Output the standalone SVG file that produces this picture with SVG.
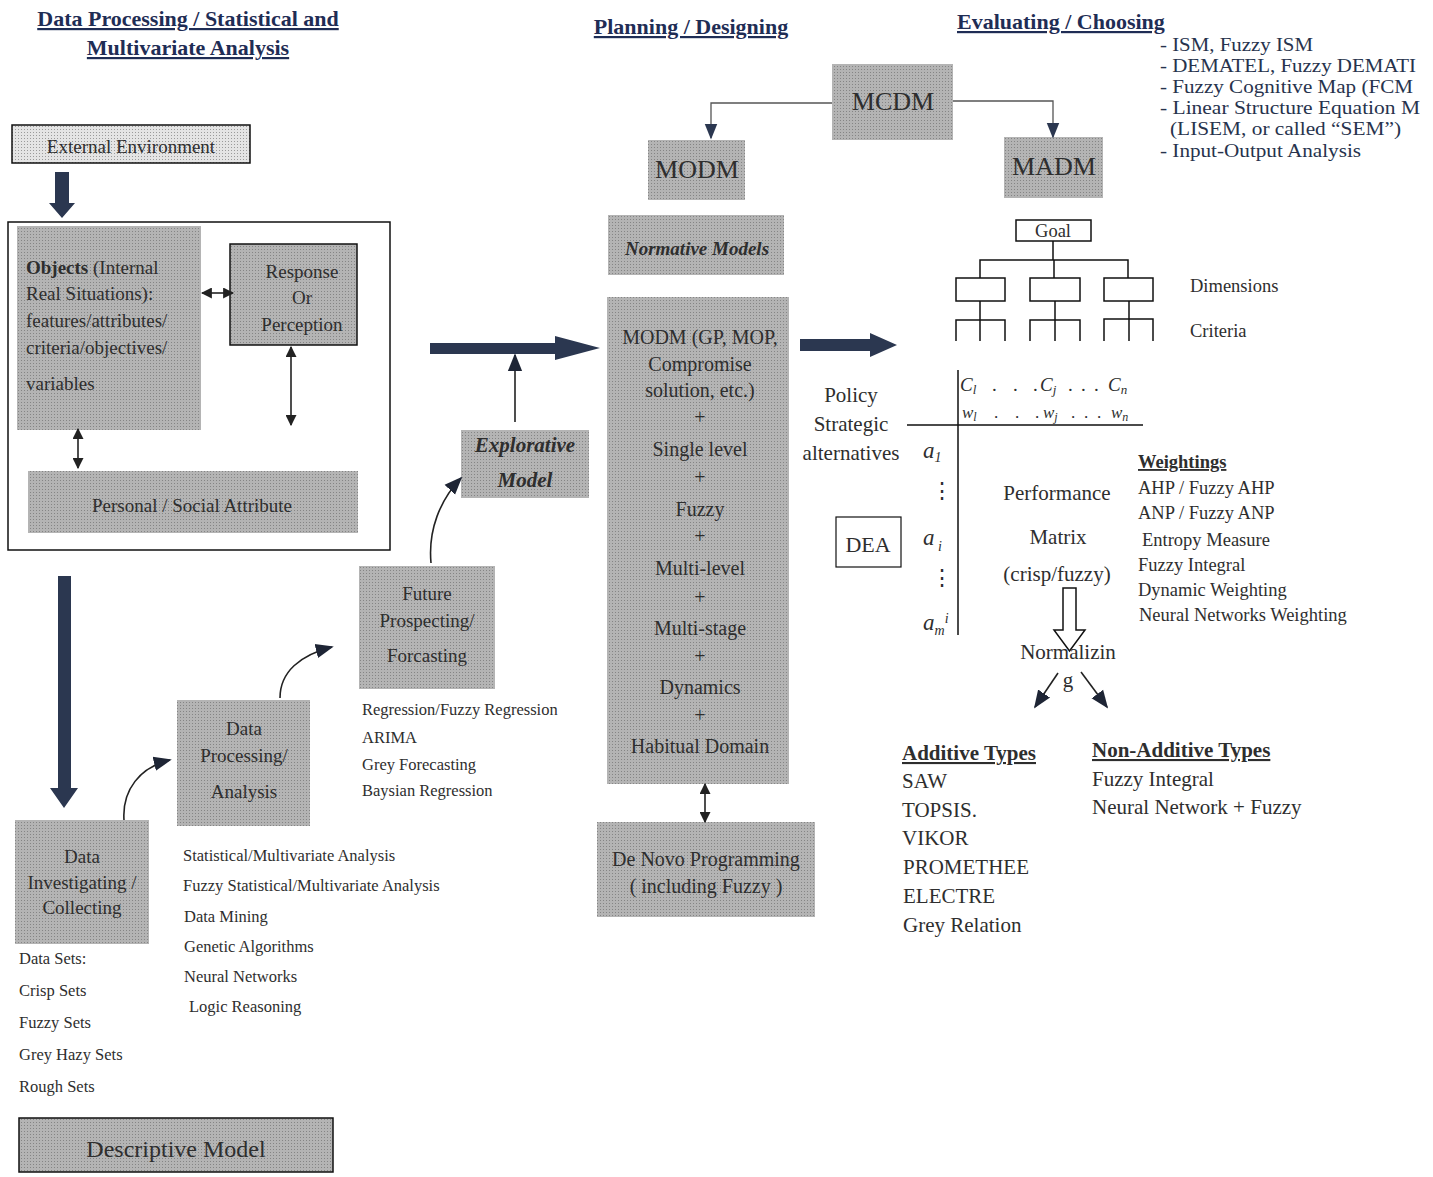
<svg xmlns="http://www.w3.org/2000/svg" width="1433" height="1177" viewBox="0 0 1433 1177">
<defs>
<pattern id="dots" width="3" height="3" patternUnits="userSpaceOnUse">
<rect width="3" height="3" fill="#b4b4b4"/>
<rect width="1" height="1" fill="#858585"/>
</pattern>
<pattern id="ldots" width="3" height="3" patternUnits="userSpaceOnUse">
<rect width="3" height="3" fill="#e4e4e4"/>
<rect width="1" height="1" fill="#9a9a9a"/>
</pattern>
<marker id="ah" viewBox="0 0 10 10" refX="9" refY="5" markerWidth="11" markerHeight="11" orient="auto-start-reverse" markerUnits="userSpaceOnUse">
<path d="M0,0 L10,5 L0,10 z" fill="#222"/>
</marker>
<marker id="ahb" viewBox="0 0 10 10" refX="9" refY="5" markerWidth="16" markerHeight="16" orient="auto" markerUnits="userSpaceOnUse">
<path d="M0,1 L10,5 L0,9 z" fill="#2b3750"/>
</marker>
<marker id="ahc" viewBox="0 0 10 10" refX="9" refY="5" markerWidth="18" markerHeight="18" orient="auto" markerUnits="userSpaceOnUse">
<path d="M0,1 L10,5 L0,9 z" fill="#1e2535"/>
</marker>
</defs>
<style>
text{font-family:"Liberation Serif","Times New Roman",serif;fill:#2e2e2e}
.hd{font-weight:bold;font-size:22px;fill:#1f2d55;text-decoration:underline}
.box{fill:url(#dots)}
.bk{stroke:#111;stroke-width:1.5}
.c{text-anchor:middle}
.t19{font-size:19px}
.t20{font-size:20px}
.t21{font-size:21px}
.t16{font-size:16.5px}
.t18{font-size:18.5px}
.tl{font-size:18px}
.ln{stroke:#222;stroke-width:1.6;fill:none}
.thin{stroke:#111;stroke-width:1.5;fill:none}
.navy{fill:#2b3750}
.sub{font-weight:bold;text-decoration:underline}
.blue{fill:#27334d}
.it{font-style:italic}
</style>
<rect width="1433" height="1177" fill="#fff"/>

<g id="headers">
<text class="hd c" x="188" y="26">Data Processing / Statistical and</text>
<text class="hd c" x="188" y="55">Multivariate Analysis</text>
<text class="hd c" x="691" y="34">Planning / Designing</text>
<text class="hd" x="957" y="29">Evaluating / Choosing</text>
</g>

<g id="external-environment">
<rect x="12" y="125" width="238" height="38" fill="url(#ldots)" class="bk"/>
<text class="c t19" x="131" y="153">External Environment</text>
</g>

<g id="frame">
<rect x="8" y="222" width="382" height="328" fill="none" class="bk"/>
</g>

<g id="objects">
<rect x="17" y="226" width="184" height="204" class="box"/>
<text class="t19" x="26" y="274"><tspan font-weight="bold">Objects</tspan> (Internal</text>
<text class="t19" x="26" y="300">Real Situations):</text>
<text class="t19" x="26" y="327">features/attributes/</text>
<text class="t19" x="26" y="354">criteria/objectives/</text>
<text class="t19" x="26" y="390">variables</text>
</g>

<g id="response">
<rect x="230" y="244" width="127" height="101" class="box" stroke="#111" stroke-width="1.5"/>
<text class="c t19" x="302" y="278">Response</text>
<text class="c t19" x="302" y="304">Or</text>
<text class="c t19" x="302" y="331">Perception</text>
</g>

<g id="personal-social">
<rect x="28" y="471" width="330" height="62" class="box"/>
<text class="c t19" x="192" y="512">Personal / Social Attribute</text>
</g>

<g id="data-investigating">
<rect x="15" y="820" width="134" height="124" class="box"/>
<text class="c t19" x="82" y="863">Data</text>
<text class="c t19" x="82" y="889">Investigating /</text>
<text class="c t19" x="82" y="914">Collecting</text>
</g>

<g id="data-sets">
<text class="t16" x="19" y="964">Data Sets:</text>
<text class="t16" x="19" y="996">Crisp Sets</text>
<text class="t16" x="19" y="1028">Fuzzy Sets</text>
<text class="t16" x="19" y="1060">Grey Hazy Sets</text>
<text class="t16" x="19" y="1092">Rough Sets</text>
</g>

<g id="descriptive-model">
<rect x="19" y="1118" width="314" height="54" class="box" stroke="#111" stroke-width="1.5"/>
<text class="c" font-size="24" x="176" y="1157">Descriptive Model</text>
</g>

<g id="data-processing">
<rect x="177" y="700" width="133" height="126" class="box"/>
<text class="c t19" x="244" y="735">Data</text>
<text class="c t19" x="244" y="762">Processing/</text>
<text class="c t19" x="244" y="798">Analysis</text>
</g>

<g id="stat-methods">
<text class="t16" x="183" y="861">Statistical/Multivariate Analysis</text>
<text class="t16" x="183" y="891">Fuzzy Statistical/Multivariate Analysis</text>
<text class="t16" x="184" y="922">Data Mining</text>
<text class="t16" x="184" y="952">Genetic Algorithms</text>
<text class="t16" x="184" y="982">Neural Networks</text>
<text class="t16" x="189" y="1012">Logic Reasoning</text>
</g>

<g id="future-prospecting">
<rect x="359" y="566" width="136" height="123" class="box"/>
<text class="c t19" x="427" y="600">Future</text>
<text class="c t19" x="427" y="627">Prospecting/</text>
<text class="c t19" x="427" y="662">Forcasting</text>
</g>

<g id="forecast-methods">
<text class="t16" x="362" y="715">Regression/Fuzzy Regression</text>
<text class="t16" x="362" y="743">ARIMA</text>
<text class="t16" x="362" y="770">Grey Forecasting</text>
<text class="t16" x="362" y="796">Baysian Regression</text>
</g>

<g id="explorative-model">
<rect x="461" y="430" width="128" height="68" class="box"/>
<text class="c" font-size="21" font-style="italic" font-weight="bold" x="525" y="452">Explorative</text>
<text class="c" font-size="21" font-style="italic" font-weight="bold" x="525" y="487">Model</text>
</g>

<g id="mcdm">
<rect x="832" y="64" width="121" height="76" class="box"/>
<text class="c" font-size="26" x="893" y="110">MCDM</text>
</g>

<g id="modm">
<rect x="648" y="140" width="97" height="60" class="box"/>
<text class="c" font-size="26" x="697" y="178">MODM</text>
</g>

<g id="madm">
<rect x="1004" y="137" width="99" height="61" class="box"/>
<text class="c" font-size="26" x="1054" y="175">MADM</text>
</g>

<g id="normative-models">
<rect x="608" y="215" width="176" height="60" class="box"/>
<text class="c" font-size="19" font-style="italic" font-weight="bold" x="697" y="255">Normative Models</text>
</g>

<g id="modm-detail">
<rect x="607" y="297" width="182" height="487" class="box"/>
<text class="c t20" x="700" y="344">MODM (GP, MOP,</text>
<text class="c t20" x="700" y="371">Compromise</text>
<text class="c t20" x="700" y="397">solution, etc.)</text>
<text class="c t20" x="700" y="424">+</text>
<text class="c t20" x="700" y="456">Single level</text>
<text class="c t20" x="700" y="484">+</text>
<text class="c t20" x="700" y="516">Fuzzy</text>
<text class="c t20" x="700" y="543">+</text>
<text class="c t20" x="700" y="575">Multi-level</text>
<text class="c t20" x="700" y="604">+</text>
<text class="c t20" x="700" y="635">Multi-stage</text>
<text class="c t20" x="700" y="663">+</text>
<text class="c t20" x="700" y="694">Dynamics</text>
<text class="c t20" x="700" y="722">+</text>
<text class="c t20" x="700" y="753">Habitual Domain</text>
</g>

<g id="de-novo">
<rect x="597" y="822" width="218" height="95" class="box"/>
<text class="c t20" x="706" y="866">De Novo Programming</text>
<text class="c t20" x="706" y="893">( including Fuzzy )</text>
</g>

<g id="techniques-list">
<text class="tl blue" x="1160" y="51" textLength="153" lengthAdjust="spacingAndGlyphs">- ISM, Fuzzy ISM</text>
<text class="tl blue" x="1160" y="72" textLength="256" lengthAdjust="spacingAndGlyphs">- DEMATEL, Fuzzy DEMATI</text>
<text class="tl blue" x="1160" y="93" textLength="253" lengthAdjust="spacingAndGlyphs">- Fuzzy Cognitive Map (FCM</text>
<text class="tl blue" x="1160" y="114" textLength="260" lengthAdjust="spacingAndGlyphs">- Linear Structure Equation M</text>
<text class="tl blue" x="1170" y="135" textLength="231" lengthAdjust="spacingAndGlyphs">(LISEM, or called “SEM”)</text>
<text class="tl blue" x="1160" y="157" textLength="201" lengthAdjust="spacingAndGlyphs">- Input-Output Analysis</text>
</g>

<g id="hierarchy">
<rect x="1016" y="220" width="75" height="21" fill="#fff" class="bk"/>
<text class="c t18" x="1053" y="237">Goal</text>
<path class="thin" d="M1053,241 V260 M980,278 V260 H1128 V278 M1054,260 V278"/>
<rect x="956" y="278" width="49" height="23" fill="#fff" class="bk"/>
<rect x="1030" y="278" width="50" height="23" fill="#fff" class="bk"/>
<rect x="1104" y="278" width="49" height="23" fill="#fff" class="bk"/>
<path class="thin" d="M956,341 V320 H1005 V341 M980,301 V341 M1030,341 V320 H1080 V341 M1055,301 V341 M1104,341 V319 H1153 V341 M1129,301 V341"/>
<text class="t18" x="1190" y="292">Dimensions</text>
<text class="t18" x="1190" y="337">Criteria</text>
</g>

<g id="policy">
<text class="c" font-size="21" x="851" y="402">Policy</text>
<text class="c" font-size="21" x="851" y="431">Strategic</text>
<text class="c" font-size="21" x="851" y="460">alternatives</text>
</g>

<g id="dea">
<rect x="836" y="517" width="65" height="50" fill="#fff" stroke="#111" stroke-width="1.2"/>
<text class="c" font-size="22" x="868" y="552">DEA</text>
</g>

<g id="matrix">
<path class="thin" d="M958,370 V635 M907,425 H1143"/>
<text class="it" font-size="19" x="960" y="391">C<tspan font-size="13" dy="3">l</tspan></text>
<text font-size="19" x="992" y="391">.</text>
<text font-size="19" x="1013" y="391">.</text>
<text font-size="19" x="1033" y="391">.</text>
<text class="it" font-size="19" x="1040" y="391">C<tspan font-size="13" dy="3">j</tspan></text>
<text font-size="19" x="1068" y="391">.</text>
<text font-size="19" x="1081" y="391">.</text>
<text font-size="19" x="1094" y="391">.</text>
<text class="it" font-size="19" x="1108" y="391">C<tspan font-size="13" dy="3">n</tspan></text>
<text class="it" font-size="17" x="962" y="418">w<tspan font-size="12" dy="3">l</tspan></text>
<text font-size="17" x="994" y="418">.</text>
<text font-size="17" x="1015" y="418">.</text>
<text font-size="17" x="1035" y="418">.</text>
<text class="it" font-size="17" x="1043" y="418">w<tspan font-size="12" dy="3">j</tspan></text>
<text font-size="17" x="1071" y="418">.</text>
<text font-size="17" x="1084" y="418">.</text>
<text font-size="17" x="1097" y="418">.</text>
<text class="it" font-size="17" x="1111" y="418">w<tspan font-size="12" dy="3">n</tspan></text>
<text class="it" font-size="23" x="923" y="458">a<tspan font-size="14" dy="4">1</tspan></text>
<text font-size="22" x="931" y="498">⋮</text>
<text class="it" font-size="23" x="923" y="545">a<tspan font-size="14" dy="6"> i</tspan></text>
<text font-size="22" x="931" y="585">⋮</text>
<text class="it" font-size="23" x="923" y="630">a<tspan font-size="14" dy="5">m</tspan><tspan font-size="14" dy="-12">i</tspan></text>
<text class="c" font-size="21" x="1057" y="500">Performance</text>
<text class="c" font-size="21" x="1058" y="544">Matrix</text>
<text class="c" font-size="21" x="1057" y="581">(crisp/fuzzy)</text>
<path d="M1063,588 H1076 V630 H1085 L1069.5,651 L1054,630 H1063 Z" fill="#fff" stroke="#111" stroke-width="1.5"/>
<text class="c" font-size="21" x="1068" y="659">Normalizin</text>
<text class="c" font-size="21" x="1068" y="687">g</text>
</g>

<g id="weightings">
<text class="t18 sub" x="1138" y="468">Weightings</text>
<text class="t18" x="1138" y="494">AHP / Fuzzy AHP</text>
<text class="t18" x="1138" y="519">ANP / Fuzzy ANP</text>
<text class="t18" x="1142" y="546">Entropy Measure</text>
<text class="t18" x="1138" y="571">Fuzzy Integral</text>
<text class="t18" x="1138" y="596" fill="#111">Dynamic Weighting</text>
<text class="t18" x="1139" y="621" fill="#111">Neural Networks Weighting</text>
</g>

<g id="additive-types">
<text class="t21 sub" x="902" y="760">Additive Types</text>
<text class="t21" x="902" y="788">SAW</text>
<text class="t21" x="902" y="817">TOPSIS.</text>
<text class="t21" x="902" y="845">VIKOR</text>
<text class="t21" x="903" y="874">PROMETHEE</text>
<text class="t21" x="903" y="903">ELECTRE</text>
<text class="t21" x="903" y="932">Grey Relation</text>
</g>

<g id="non-additive-types">
<text class="t21 sub" x="1092" y="757">Non-Additive Types</text>
<text class="t21" x="1092" y="786">Fuzzy Integral</text>
<text class="t21" x="1092" y="814" fill="#111">Neural Network + Fuzzy</text>
</g>

<g id="connectors">
<polygon class="navy" points="55,172 69,172 69,203 75,203 62,218 49,203 55,203"/>
<polygon class="navy" points="58,576 71,576 71,788 78,788 64,808 50,788 58,788"/>
<polygon class="navy" points="430,343 555,343 555,336 600,348 555,360 555,354 430,354"/>
<polygon class="navy" points="800,339 870,339 870,333 897,345 870,357 870,351 800,351"/>
<line class="ln" x1="202" y1="293" x2="233" y2="293" marker-start="url(#ah)" marker-end="url(#ah)"/>
<line class="ln" x1="291" y1="347" x2="291" y2="425" marker-start="url(#ah)" marker-end="url(#ah)"/>
<line class="ln" x1="78" y1="429" x2="78" y2="468" marker-start="url(#ah)" marker-end="url(#ah)"/>
<line class="ln" x1="705" y1="784" x2="705" y2="822" marker-start="url(#ah)" marker-end="url(#ah)"/>
<path class="ln" d="M124,820 C122,790 140,767 170,760" marker-end="url(#ahc)"/>
<path class="ln" d="M280,698 C280,672 300,655 332,647" marker-end="url(#ahc)"/>
<path class="ln" d="M431,563 C428,530 440,500 461,478" marker-end="url(#ahc)"/>
<line class="ln" x1="515" y1="422" x2="515" y2="355" marker-end="url(#ahc)"/>
<path d="M832,103 H711 V138" fill="none" stroke="#555" stroke-width="1.3" marker-end="url(#ahb)"/>
<path d="M953,101 H1053 V137" fill="none" stroke="#555" stroke-width="1.3" marker-end="url(#ahb)"/>
<line class="ln" x1="1058" y1="673" x2="1035" y2="707" marker-end="url(#ahc)"/>
<line class="ln" x1="1081" y1="672" x2="1107" y2="707" marker-end="url(#ahc)"/>
</g>
</svg>
